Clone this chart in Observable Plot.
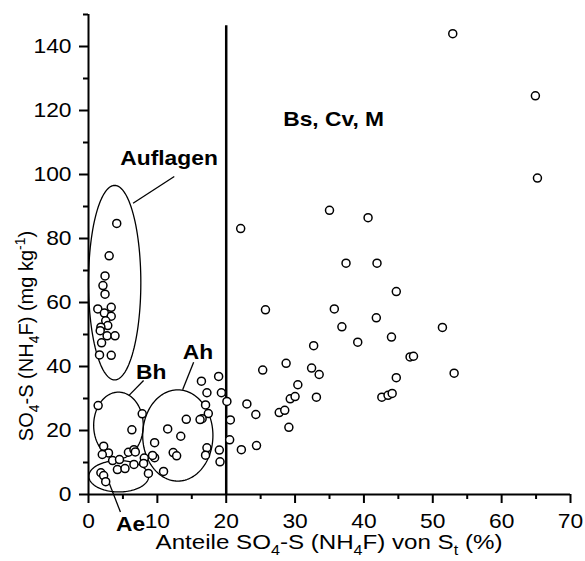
<!DOCTYPE html>
<html><head><meta charset="utf-8">
<script src="https://cdn.jsdelivr.net/npm/d3@7"></script>
<script src="https://cdn.jsdelivr.net/npm/@observablehq/plot@0.6"></script>
<style>body{margin:0;background:#fff} svg{display:block}</style>
</head><body><div id="chart"></div>
<script>
// Scatter points: share of SO4-S (NH4F) in St (%) vs SO4-S (NH4F) (mg/kg)
const pointX = [
  4.1,3.0,2.4,2.1,2.4,1.35,3.3,2.3,3.3,2.5,2.8,1.8,1.7,2.7,3.85,1.9,1.6,3.3,
  1.4,6.3,7.8,2.2,2.9,2.0,5.8,6.6,6.8,3.5,4.5,4.2,5.3,6.6,8.1,8.0,8.7,1.8,2.2,2.5,
  14.2,11.5,13.4,9.6,12.3,12.8,9.6,9.3,10.9,
  16.4,18.9,17.2,19.3,17.0,17.4,16.5,16.2,17.2,17.0,19.0,19.1,
  20.1,20.6,20.5,22.1,22.2,24.4,23.0,24.3,25.3,25.7,27.7,28.5,28.7,29.1,29.3,30.0,30.4,
  32.4,32.7,33.1,33.5,35.0,35.7,36.8,37.4,39.1,40.6,41.8,41.9,42.6,43.5,44.1,44.0,44.7,
  44.7,46.7,47.2,51.4,52.9,53.1,64.9,65.2
];
const pointY = [
  84.7,74.6,68.3,65.3,62.6,58.0,58.5,56.7,55.7,54.3,52.8,52.3,51.2,49.6,49.6,47.4,43.6,43.5,
  27.8,20.2,25.2,15.1,13.0,12.5,13.2,14.0,13.3,10.6,10.9,7.8,8.1,9.4,11.4,9.7,6.6,6.8,5.9,4.0,
  23.5,20.5,18.2,16.2,13.1,12.1,11.5,12.2,7.2,
  35.4,36.9,31.8,31.8,28.0,25.3,23.7,23.4,14.6,12.3,13.9,10.2,
  29.1,23.3,17.1,83.1,14.0,15.3,28.3,25.0,38.9,57.7,25.6,26.3,41.0,21.0,29.9,30.6,34.3,
  39.5,46.5,30.4,37.5,88.8,58.0,52.4,72.3,47.6,86.5,55.2,72.3,30.4,31.0,31.6,49.2,63.4,
  36.5,43.0,43.2,52.2,144.0,37.9,124.6,98.9
];

// Horizon groups (ellipses, data units)
const groupName = ["Auflagen","Bh","Ae","Ah"];
const groupCx = [3.8, 4.35, 4.4, 12.97];
const groupCy = [66.2, 21.6, 5.7, 18.45];
const groupRx = [3.8, 3.6, 4.35, 5.1];
const groupRy = [30.4, 10.4, 4.9, 14.25];

// Labels
const labelText = ["Auflagen","Bh","Ah","Ae","Bs, Cv, M"];
const labelX = [11.7, 9.1, 15.9, 6.1, 35.6];
const labelY = [105.1, 38.0, 44.2, -9.4, 117.3];

// Callout lines
const calloutX1 = [6.47, 5.85, 13.67, 2.8];
const calloutY1 = [91.0, 30.9, 32.7, 4.7];
const calloutX2 = [12.46, 8.0, 15.27, 4.64];
const calloutY2 = [99.4, 35.6, 41.3, -5.5];

// Axis ticks
const xTicks = [0,10,20,30,40,50,60,70];
const xMinor = [5,15,25,35,45,55,65];
const yTicks = [0,20,40,60,80,100,120,140];
const yMinor = [10,30,50,70,90,110,130,150];
const boundaryX = [20];

const points = pointX.map((x,i)=>({x, y: pointY[i]}));
const ellipsePts = [];
groupName.forEach((g,i)=>{
  const n = 120;
  for (let k=0;k<=n;k++){
    const t = 2*Math.PI*k/n;
    ellipsePts.push({g, x: groupCx[i]+groupRx[i]*Math.cos(t), y: groupCy[i]+groupRy[i]*Math.sin(t)});
  }
});
const labels = labelText.map((t,i)=>({t, x: labelX[i], y: labelY[i]}));
const callouts = calloutX1.map((x1,i)=>({x1, y1: calloutY1[i], x2: calloutX2[i], y2: calloutY2[i]}));

const font = "'Liberation Sans', Arial, Helvetica, sans-serif";
const chart = Plot.plot({
  width: 585, height: 561,
  marginLeft: 88, marginRight: 15, marginTop: 14, marginBottom: 67,
  style: {fontFamily: font, fontSize: "20px", color: "black", background: "white"},
  x: {domain: [0,70]},
  y: {domain: [0,150]},
  marks: [
    Plot.axisX({ticks: xTicks, tickSize: 9, tickPadding: 10, fontSize: 20, label: null, strokeWidth: 2}),
    Plot.axisX({ticks: xMinor, tickSize: 5, text: null, label: null, strokeWidth: 2}),
    Plot.axisY({ticks: yTicks, tickSize: 9, tickPadding: 8, fontSize: 20, label: null, strokeWidth: 2}),
    Plot.axisY({ticks: yMinor, tickSize: 5, text: null, label: null, strokeWidth: 2}),
    Plot.ruleY([0], {strokeWidth: 2}),
    Plot.ruleX([0], {strokeWidth: 2}),
    Plot.ruleX(boundaryX, {y1: 0, y2: 146.5, strokeWidth: 2.5}),
    Plot.line(ellipsePts, {x: "x", y: "y", z: "g", stroke: "black", strokeWidth: 1.3, curve: "linear"}),
    Plot.link(callouts, {x1: "x1", y1: "y1", x2: "x2", y2: "y2", stroke: "black", strokeWidth: 1.3}),
    Plot.text(labels, {x: "x", y: "y", text: "t", fontWeight: "bold", fontSize: 20, fill: "black"}),
    Plot.dot(points, {x: "x", y: "y", r: 4, stroke: "black", strokeWidth: 1.5, fill: "white"})
  ]
});
document.getElementById("chart").appendChild(chart);

const svg = d3.select(chart);
// the reference typeface is horizontally wider: stretch horizontal texts a little
svg.selectAll("text").each(function(){
  const t = this.getAttribute("transform");
  if (t) this.setAttribute("transform", t + " scale(1.14,1)");
  else {
    const x = +(this.getAttribute("x") || 0), y = +(this.getAttribute("y") || 0);
    this.removeAttribute("x"); this.removeAttribute("y");
    this.setAttribute("transform", `translate(${x},${y}) scale(1.14,1)`);
  }
});

// parts: [text, kind] kind 0 normal, 1 subscript, -1 superscript
function richText(sel, parts){
  let offset = 0;
  parts.forEach(([s, k])=>{
    const target = k===1 ? 6 : k===-1 ? -8 : 0;
    const sp = sel.append("tspan").text(s);
    if (target !== offset) sp.attr("dy", target - offset);
    if (k !== 0) sp.attr("font-size", 14);
    offset = target;
  });
}
const xt = svg.append("text").attr("transform","translate(329,549) scale(1.15,1)").attr("text-anchor","middle")
  .attr("font-family", font).attr("font-size", 21).attr("fill","black");
richText(xt, [["Anteile SO",0],["4",1],["-S (NH",0],["4",1],["F) von S",0],["t",1],[" (%)",0]]);
const yt = svg.append("text").attr("transform","translate(33,336) rotate(-90)").attr("text-anchor","middle")
  .attr("font-family", font).attr("font-size", 20).attr("fill","black");
richText(yt, [["SO",0],["4",1],["-S (NH",0],["4",1],["F) (mg kg",0],["-1",-1],[")",0]]);
</script>
</body></html>
